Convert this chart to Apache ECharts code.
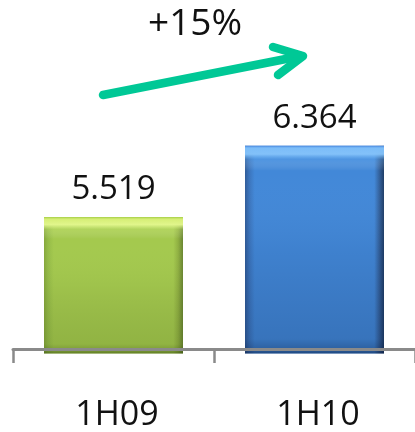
<!DOCTYPE html>
<html>
<head>
<meta charset="utf-8">
<script src="https://cdn.jsdelivr.net/npm/echarts@6/dist/echarts.min.js"></script>
<style>
html,body{margin:0;padding:0;background:#fff;}
#chart{width:415px;height:432px;}
</style>
</head>
<body>
<div id="chart"></div>
<script>
var categories = ['1H09', '1H10'];
var values = [5.519, 6.364];
var valueLabels = ['5.519', '6.364'];
var growthLabel = '+15%';

var FONT = '"Open Sans", "Noto Sans", sans-serif';

function grad(x2, y2, stops) {
  return new echarts.graphic.LinearGradient(0, 0, x2, y2, stops.map(function (s) { return { offset: s[0], color: s[1] }; }));
}

var baseStyles = [
  { color: grad(1, 0, [[0, '#86a83c'], [0.03, '#96bc48'], [0.07, '#a4c94e'], [0.93, '#a4c94e'], [0.965, '#90b042'], [1, '#6a8632']]) },
  { color: grad(1, 0, [[0, '#2f5b98'], [0.03, '#3b74bc'], [0.07, '#4288d8'], [0.93, '#4288d8'], [0.965, '#34639f'], [1, '#1f3d66']]) }
];
var overlayStyles = [
  { color: grad(0, 1, [[0, 'rgba(168,208,72,1)'], [0.015, 'rgba(214,238,118,1)'], [0.055, 'rgba(228,248,142,0.95)'], [0.09, 'rgba(220,245,140,0.25)'], [0.16, 'rgba(255,255,255,0)'], [0.5, 'rgba(0,0,0,0.03)'], [0.93, 'rgba(30,50,0,0.14)'], [0.975, 'rgba(30,50,0,0.3)'], [1, 'rgba(30,50,0,0.5)']]) },
  { color: grad(0, 1, [[0, 'rgba(74,138,224,1)'], [0.01, 'rgba(124,189,248,1)'], [0.04, 'rgba(134,196,251,0.95)'], [0.065, 'rgba(110,180,245,0.3)'], [0.12, 'rgba(255,255,255,0)'], [0.5, 'rgba(0,0,30,0.05)'], [0.93, 'rgba(0,10,40,0.16)'], [0.975, 'rgba(0,10,40,0.3)'], [1, 'rgba(0,10,40,0.5)']]) }
];

var chart = echarts.init(document.getElementById('chart'), null, { renderer: 'canvas' });
chart.setOption({
  animation: false,
  backgroundColor: '#ffffff',
  grid: { left: 13, right: -6, top: 8, bottom: 74.5 },
  xAxis: {
    type: 'category',
    data: categories,
    offset: -4.5,
    z: 5,
    axisLine: { show: true, lineStyle: { color: '#8a8a8a', width: 3 } },
    axisTick: { show: true, alignWithLabel: false, length: 14, lineStyle: { color: '#8a8a8a', width: 2.5 } },
    axisLabel: { color: '#111', fontFamily: FONT, fontSize: 34, margin: 49, padding: [0, 0, 0, 7] },
    splitLine: { show: false }
  },
  yAxis: {
    type: 'value', min: 3.9, max: 8, show: false,
    splitLine: { show: false }
  },
  series: [{
    type: 'bar',
    barWidth: 139,
    data: values.map(function (v, i) {
      return { value: v, itemStyle: baseStyles[i] };
    })
  }, {
    type: 'bar',
    barWidth: 139,
    barGap: '-100%',
    data: values.map(function (v, i) {
      return { value: v, itemStyle: overlayStyles[i], label: { formatter: valueLabels[i] } };
    }),
    label: { show: true, position: 'top', distance: 11, color: '#111', fontFamily: FONT, fontSize: 33 }
  }],
  graphic: [
    { type: 'text', left: 148, top: 6, style: { text: growthLabel, font: '37px ' + FONT, fill: '#111' } },
    { type: 'polyline', shape: { points: [[103, 95], [301, 56]] }, style: { stroke: '#00c896', lineWidth: 8.5, lineCap: 'round', fill: null } },
    { type: 'polyline', shape: { points: [[273, 47], [303, 56], [278, 75]] }, style: { stroke: '#00c896', lineWidth: 8.5, lineCap: 'round', lineJoin: 'round', fill: null } }
  ]
});
</script>
</body>
</html>
